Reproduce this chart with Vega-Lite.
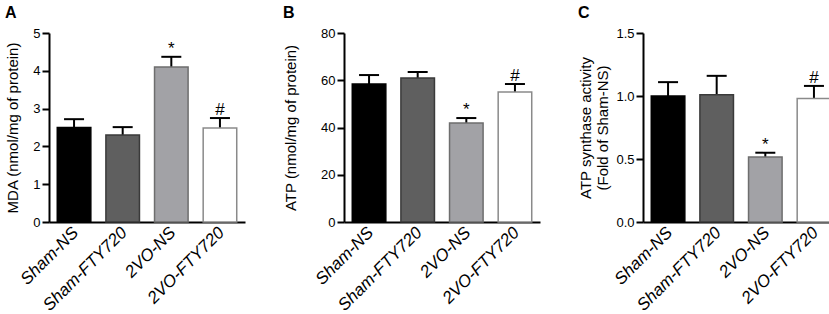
{
  "$schema": "https://vega.github.io/schema/vega-lite/v6.json",
  "background": "white",
  "padding": {"left": 4, "top": 5, "right": 0, "bottom": 0},
  "config": {
    "font": "Liberation Sans",
    "view": {"stroke": null},
    "axis": {"domainColor": "black", "domainWidth": 2, "tickColor": "black", "tickWidth": 2, "tickSize": 7, "labelColor": "black", "titleColor": "black", "labelFontSize": 13, "titleFontSize": 15, "titleFontWeight": "normal", "grid": false, "labelPadding": 2, "labelOverlap": false},
    "axisY": {"labelFontSize": 13, "titleBaseline": "middle", "titleY": 94.5, "titleLineHeight": 17},
    "axisX": {"ticks": false, "labelAngle": -45, "labelFontStyle": "italic", "labelFontSize": 17, "labelPadding": 2, "labelOffset": -4},
    "title": {"anchor": "start", "frame": "bounds", "fontSize": 16, "fontWeight": "bold", "color": "black", "offset": 6},
    "concat": {"spacing": 37}
  },
  "hconcat": [
    {
      "title": "A",
      "width": 196, "height": 189,
      "data": {"values": [
        {"group": "Sham-NS", "value": 2.5, "err": 2.72, "sig": ""},
        {"group": "Sham-FTY720", "value": 2.3, "err": 2.51, "sig": ""},
        {"group": "2VO-NS", "value": 4.1, "err": 4.37, "sig": "*"},
        {"group": "2VO-FTY720", "value": 2.49, "err": 2.75, "sig": "#"}
      ]},
      "encoding": {"x": {"field": "group", "type": "nominal", "sort": null, "scale": {"paddingInner": 0.31, "paddingOuter": 0.17}, "axis": {"title": null}}},
      "layer": [
        {"mark": {"type": "rule", "strokeWidth": 2, "color": "black"}, "encoding": {"y": {"field": "value", "type": "quantitative", "scale": {"domain": [0, 5], "nice": false}, "axis": {"title": "MDA (nmol/mg of protein)", "values": [0, 1, 2, 3, 4, 5], "titleX": -37}}, "y2": {"field": "err"}}},
        {"mark": {"type": "tick", "thickness": 2, "size": 20, "color": "black", "opacity": 1}, "encoding": {"y": {"field": "err", "type": "quantitative", "axis": {"title": "MDA (nmol/mg of protein)", "values": [0, 1, 2, 3, 4, 5], "titleX": -37}}}},
        {"mark": {"type": "bar", "strokeWidth": 1.5}, "encoding": {
          "y": {"field": "value", "type": "quantitative", "axis": {"title": "MDA (nmol/mg of protein)", "values": [0, 1, 2, 3, 4, 5], "titleX": -37}},
          "fill": {"field": "group", "type": "nominal", "sort": null, "scale": {"domain": ["Sham-NS", "Sham-FTY720", "2VO-NS", "2VO-FTY720"], "range": ["#000000", "#5f5f5f", "#a2a2a6", "#ffffff"]}, "legend": null},
          "stroke": {"field": "group", "type": "nominal", "sort": null, "scale": {"domain": ["Sham-NS", "Sham-FTY720", "2VO-NS", "2VO-FTY720"], "range": ["#000000", "#3a3a3a", "#6e6e6e", "#8a8a8a"]}, "legend": null}
        }},
        {"mark": {"type": "text", "dy": -3, "fontSize": 17, "baseline": "alphabetic", "color": "black"}, "encoding": {"y": {"field": "err", "type": "quantitative", "axis": {"title": "MDA (nmol/mg of protein)", "values": [0, 1, 2, 3, 4, 5], "titleX": -37}}, "text": {"field": "sig"}}}
      ]
    },
    {
      "title": "B",
      "width": 196, "height": 189,
      "data": {"values": [
        {"group": "Sham-NS", "value": 58.4, "err": 62.2, "sig": ""},
        {"group": "Sham-FTY720", "value": 60.9, "err": 63.5, "sig": ""},
        {"group": "2VO-NS", "value": 41.9, "err": 44.0, "sig": "*"},
        {"group": "2VO-FTY720", "value": 55.0, "err": 58.4, "sig": "#"}
      ]},
      "encoding": {"x": {"field": "group", "type": "nominal", "sort": null, "scale": {"paddingInner": 0.31, "paddingOuter": 0.17}, "axis": {"title": null}}},
      "layer": [
        {"mark": {"type": "rule", "strokeWidth": 2, "color": "black"}, "encoding": {"y": {"field": "value", "type": "quantitative", "scale": {"domain": [0, 80], "nice": false}, "axis": {"title": "ATP (nmol/mg of protein)", "values": [0, 20, 40, 60, 80], "titleX": -54}}, "y2": {"field": "err"}}},
        {"mark": {"type": "tick", "thickness": 2, "size": 20, "color": "black", "opacity": 1}, "encoding": {"y": {"field": "err", "type": "quantitative", "axis": {"title": "ATP (nmol/mg of protein)", "values": [0, 20, 40, 60, 80], "titleX": -54}}}},
        {"mark": {"type": "bar", "strokeWidth": 1.5}, "encoding": {
          "y": {"field": "value", "type": "quantitative", "axis": {"title": "ATP (nmol/mg of protein)", "values": [0, 20, 40, 60, 80], "titleX": -54}},
          "fill": {"field": "group", "type": "nominal", "sort": null, "scale": {"domain": ["Sham-NS", "Sham-FTY720", "2VO-NS", "2VO-FTY720"], "range": ["#000000", "#5f5f5f", "#a2a2a6", "#ffffff"]}, "legend": null},
          "stroke": {"field": "group", "type": "nominal", "sort": null, "scale": {"domain": ["Sham-NS", "Sham-FTY720", "2VO-NS", "2VO-FTY720"], "range": ["#000000", "#3a3a3a", "#6e6e6e", "#8a8a8a"]}, "legend": null}
        }},
        {"mark": {"type": "text", "dy": -3, "fontSize": 17, "baseline": "alphabetic", "color": "black"}, "encoding": {"y": {"field": "err", "type": "quantitative", "axis": {"title": "ATP (nmol/mg of protein)", "values": [0, 20, 40, 60, 80], "titleX": -54}}, "text": {"field": "sig"}}}
      ]
    },
    {
      "title": "C",
      "width": 196, "height": 189,
      "data": {"values": [
        {"group": "Sham-NS", "value": 1.0, "err": 1.11, "sig": ""},
        {"group": "Sham-FTY720", "value": 1.01, "err": 1.16, "sig": ""},
        {"group": "2VO-NS", "value": 0.516, "err": 0.55, "sig": "*"},
        {"group": "2VO-FTY720", "value": 0.98, "err": 1.08, "sig": "#"}
      ]},
      "encoding": {"x": {"field": "group", "type": "nominal", "sort": null, "scale": {"paddingInner": 0.31, "paddingOuter": 0.17}, "axis": {"title": null}}},
      "layer": [
        {"mark": {"type": "rule", "strokeWidth": 2, "color": "black"}, "encoding": {"y": {"field": "value", "type": "quantitative", "scale": {"domain": [0, 1.5], "nice": false}, "axis": {"title": ["ATP synthase activity", "(Fold of Sham-NS)"], "values": [0, 0.5, 1.0, 1.5], "format": ".1f", "titleX": -58}}, "y2": {"field": "err"}}},
        {"mark": {"type": "tick", "thickness": 2, "size": 20, "color": "black", "opacity": 1}, "encoding": {"y": {"field": "err", "type": "quantitative", "axis": {"title": ["ATP synthase activity", "(Fold of Sham-NS)"], "values": [0, 0.5, 1.0, 1.5], "format": ".1f", "titleX": -58}}}},
        {"mark": {"type": "bar", "strokeWidth": 1.5}, "encoding": {
          "y": {"field": "value", "type": "quantitative", "axis": {"title": ["ATP synthase activity", "(Fold of Sham-NS)"], "values": [0, 0.5, 1.0, 1.5], "format": ".1f", "titleX": -58}},
          "fill": {"field": "group", "type": "nominal", "sort": null, "scale": {"domain": ["Sham-NS", "Sham-FTY720", "2VO-NS", "2VO-FTY720"], "range": ["#000000", "#5f5f5f", "#a2a2a6", "#ffffff"]}, "legend": null},
          "stroke": {"field": "group", "type": "nominal", "sort": null, "scale": {"domain": ["Sham-NS", "Sham-FTY720", "2VO-NS", "2VO-FTY720"], "range": ["#000000", "#3a3a3a", "#6e6e6e", "#8a8a8a"]}, "legend": null}
        }},
        {"mark": {"type": "text", "dy": -3, "fontSize": 17, "baseline": "alphabetic", "color": "black"}, "encoding": {"y": {"field": "err", "type": "quantitative", "axis": {"title": ["ATP synthase activity", "(Fold of Sham-NS)"], "values": [0, 0.5, 1.0, 1.5], "format": ".1f", "titleX": -58}}, "text": {"field": "sig"}}}
      ]
    }
  ]
}
